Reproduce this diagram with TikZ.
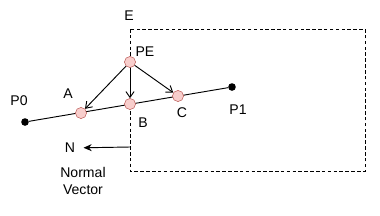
\documentclass[tikz,border=0pt]{standalone}
\usepackage{fontspec}
\setmainfont{Liberation Sans}
\usepackage{xcolor}
\usetikzlibrary{arrows.meta, positioning}

\definecolor{ptfill}{HTML}{F8CECC}
\definecolor{ptdraw}{HTML}{B85450}

\begin{document}
\begin{tikzpicture}[x=0.03cm, y=-0.03cm, font=\fontsize{12}{14}\selectfont,
        hit/.style={circle, draw=ptdraw, fill=ptfill, minimum size=9.5pt, inner sep=0pt},
        endpt/.style={circle, fill=black, minimum size=6.5pt, inner sep=0pt},
        ray/.style={-{Straight Barb[length=5pt, width=7pt]}, thick},
        lbl/.style={inner sep=1pt}]
        \useasboundingbox (0,0) rectangle (380,215);
        % Bereich E (gestrichelt)
        \draw[dash pattern=on 3pt off 2pt, thick] (130,29) rectangle (365,171);
        \node[lbl] (e) at (129,16) {E};

        % Strecke P0 -- P1
        \node[endpt] (p0) at (25,122) {};
        \node[endpt] (p1) at (232,87) {};
        \draw[thick] (p0) -- (p1);
        \node[lbl] (p0l) at (19,101) {P0};
        \node[lbl] (p1l) at (238,110) {P1};

        % Schnittpunkte
        \node[hit] (a) at (81,113) {};
        \node[hit] (b) at (130,104) {};
        \node[hit] (c) at (178,96) {};
        \node[hit] (pe) at (130,62) {};
        \node[lbl] (al) at (68,94) {A};
        \node[lbl] (bl) at (143,123) {B};
        \node[lbl] (cl) at (182,113) {C};
        \node[lbl] (pel) at (145,52) {PE};
        \draw[ray] (pe) -- (a);
        \draw[ray] (pe) -- (b);
        \draw[ray] (pe) -- (c);

        % Normalenvektor
        \coordinate (ns) at (130,147);
        \node[lbl] (n) at (70,148) {N};
        \draw[-{Stealth[length=7pt, width=6pt]}, thick, shorten >=6pt] (ns) -- (n);
        \node[align=center, lbl] (nv) at (83,181) {Normal\\Vector};
\end{tikzpicture}
\end{document}
